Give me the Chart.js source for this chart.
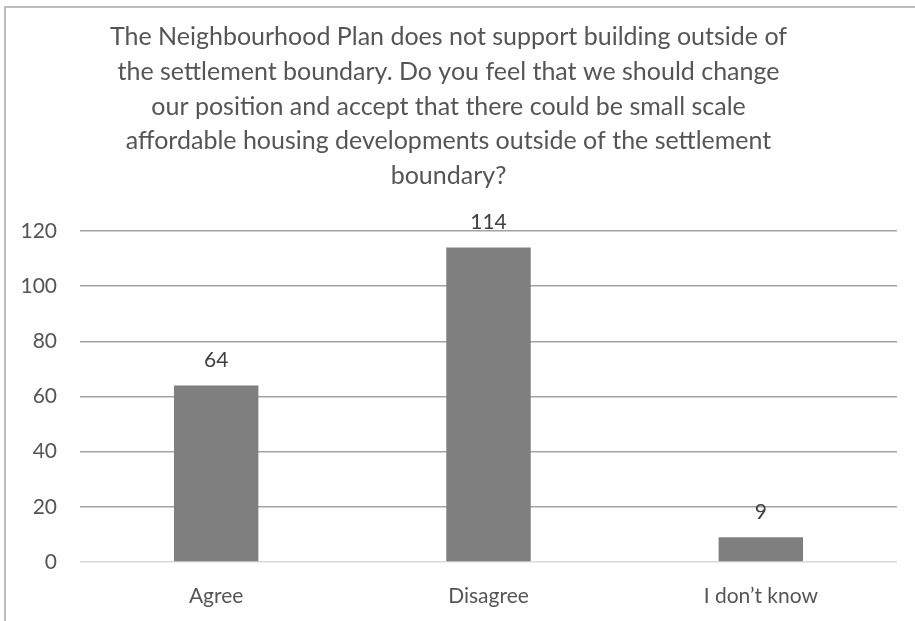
<!DOCTYPE html>
<html>
<head>
<meta charset="utf-8">
<script src="https://cdn.jsdelivr.net/npm/chart.js@4.4.1/dist/chart.umd.min.js"></script>
<style>
  html, body { margin: 0; padding: 0; background: #fff; overflow: hidden; }
  #wrap { position: relative; width: 915px; height: 621px; }
  #frame {
    position: absolute; left: 4px; top: 6px; width: 2000px; height: 2000px;
    border-left: 2px solid #bcbcbc; border-top: 2px solid #bcbcbc;
    pointer-events: none; box-sizing: border-box;
  }
</style>
</head>
<body>
<div id="wrap">
  <canvas id="surveyChart" width="915" height="621"></canvas>
  <div id="frame"></div>
</div>
<script>
const titleLines = [
  "The Neighbourhood Plan does not support building outside of",
  "the settlement boundary. Do you feel that we should change",
  "our position and accept that there could be small scale",
  "affordable housing developments outside of the settlement",
  "boundary?"
];
const categories = ["Agree", "Disagree", "I don\u2019t know"];
const responses = [64, 114, 9];
const yTicks = [0, 20, 40, 60, 80, 100, 120];

const FONT = "Lato, 'Open Sans', sans-serif";
const TEXT = "#555555";

// value labels above each bar
const valueLabels = {
  id: "valueLabels",
  afterDatasetsDraw(chart) {
    const ctx = chart.ctx;
    const meta = chart.getDatasetMeta(0);
    ctx.save();
    ctx.font = "21px " + FONT;
    ctx.fillStyle = "#404040";
    ctx.textAlign = "center";
    ctx.textBaseline = "middle";
    meta.data.forEach((bar, i) => {
      ctx.fillText(String(responses[i]), bar.x, bar.y - 25);
    });
    ctx.restore();
  }
};

const ctx = document.getElementById("surveyChart").getContext("2d");
new Chart(ctx, {
  type: "bar",
  data: {
    labels: categories,
    datasets: [{
      data: responses,
      backgroundColor: "#7f7f7f",
      barPercentage: 0.31,
      categoryPercentage: 1
    }]
  },
  options: {
    responsive: false,
    animation: false,
    layout: { padding: { left: 0, right: 18, top: 0, bottom: 0 } },
    plugins: {
      legend: { display: false },
      tooltip: { enabled: false },
      title: {
        display: true,
        text: titleLines,
        color: TEXT,
        font: { family: FONT, size: 25, weight: "normal", lineHeight: 1.384 },
        padding: { top: 20, bottom: 38 }
      }
    },
    scales: {
      x: {
        grid: { display: false },
        border: { display: false },
        ticks: { color: TEXT, font: { family: FONT, size: 21 }, padding: 14, maxRotation: 0 },
        afterFit: s => { s.height = 59; }
      },
      y: {
        min: 0,
        max: 120,
        afterBuildTicks: s => { s.ticks = yTicks.map(v => ({ value: v })); },
        grid: {
          drawTicks: false,
          lineWidth: 1.5,
          color: c => c.tick && c.tick.value === 0 ? "#d9d9d9" : "#a3a3a3"
        },
        border: { display: false },
        ticks: { color: TEXT, font: { family: FONT, size: 21 }, padding: 23 },
        afterFit: s => { s.width = 80; }
      }
    }
  },
  plugins: [valueLabels]
});
</script>
</body>
</html>
